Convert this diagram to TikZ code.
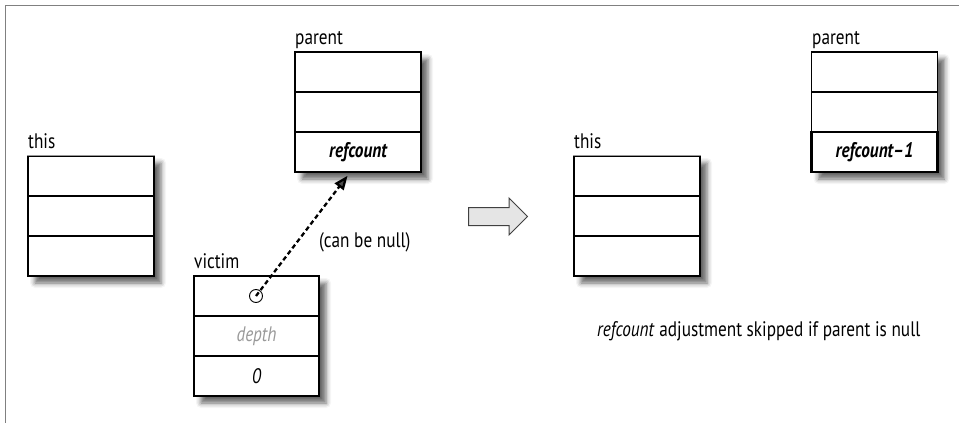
\documentclass[tikz,border=0pt]{standalone}
\usepackage{fontspec}
\setmainfont{PT Sans}[FakeStretch=0.82]
\usetikzlibrary{shadows.blur,arrows.meta,shapes.arrows}
\newcommand\myrecord[4]{% name, center x, top y, bottom text
  \fill[white, blur shadow={shadow xshift=7pt, shadow yshift=-7pt, shadow blur radius=5pt, shadow opacity=60}]
    (#2-63,#3) rectangle (#2+63,#3+120);
  \node[row] (#1a) at (#2,#3+20) {};
  \node[row] (#1b) at (#2,#3+60) {};
  \node[row] (#1c) at (#2,#3+100) {#4};
}
\begin{document}
\begin{tikzpicture}[x=1pt,y=-1pt,
  txt/.style={font=\fontsize{21}{25}\selectfont},
  row/.style={draw, minimum width=126pt, minimum height=40pt, inner sep=0pt, line width=1.1pt, fill=white, txt},
  thickrow/.style={row, line width=2.4pt, font=\fontsize{21}{25}\selectfont\bfseries\itshape},
  lbl/.style={anchor=base west, inner sep=0pt, txt},
  frame/.style={draw=black!50, line width=1.6pt},
  toplight/.style={draw=black!40, line width=0.8pt},
  bigarrow/.style={single arrow, draw=black!75, fill=black!10, line width=1pt,
    minimum height=59pt, single arrow head extend=9.5pt,
    single arrow head indent=0pt, inner xsep=0pt, inner ysep=8.5pt,
    text height=0pt, text depth=0pt},
  ptrline/.style={line width=2.3pt, dash pattern=on 4.5pt off 3pt, -{Triangle[length=14pt,width=11pt]}, shorten >=4pt}
]
\useasboundingbox (0,0) rectangle (959,423);
\draw[frame] (5.5,423) -- (5.5,5.5) -- (959,5.5);

% left "this"
\myrecord{thisL}{91}{156}{}
\draw[toplight] (thisLa.north west) -- (thisLa.north east);
\node[lbl] (thisLlbl) at (28,148) {this};

% left "parent"
\myrecord{parL}{358}{52}{}
\node[thickrow] (parLc') at (parLc) {refcount};
\node[lbl] (parLlbl) at (295,45) {parent};

% victim
\fill[white, blur shadow={shadow xshift=7pt, shadow yshift=-7pt, shadow blur radius=5pt, shadow opacity=60}]
  (194,276) rectangle (319,396);
\node[row, minimum width=125pt] (vica) at (256.5,296) {};
\node[row, minimum width=125pt, text=black!40, font=\fontsize{21}{25}\selectfont\itshape] (vicb) at (256.5,336) {depth};
\node[row, minimum width=125pt, font=\fontsize{21}{25}\selectfont\itshape] (vicc) at (256.5,376) {0};
\node[lbl] (viclbl) at (194,268) {victim};
\node[draw, circle, minimum size=13pt, inner sep=0pt, line width=0.9pt] (ptr) at (256,296) {};
\coordinate (ptrTarget) at ($(parLc.south)+(-8,0)$);
\draw[ptrline] (ptr.center) -- (ptrTarget);
\node[lbl] (nulllbl) at (319,247) {(can be null)};

% big arrow
\node[bigarrow, anchor=tail] (stepper) at (468,216.5) {};

% right "this"
\myrecord{thisR}{637}{156}{}
\draw[toplight] (thisRa.north west) -- (thisRa.north east);
\node[lbl] (thisRlbl) at (574,148) {this};

% right "parent"
\myrecord{parR}{874.5}{52}{}
\node[thickrow] (parRc') at (parRc) {refcount–1};
\node[lbl] (parRlbl) at (812,45) {parent};

\node[lbl] (caption) at (597,336) {\textit{refcount} adjustment skipped if parent is null};
\end{tikzpicture}
\end{document}
